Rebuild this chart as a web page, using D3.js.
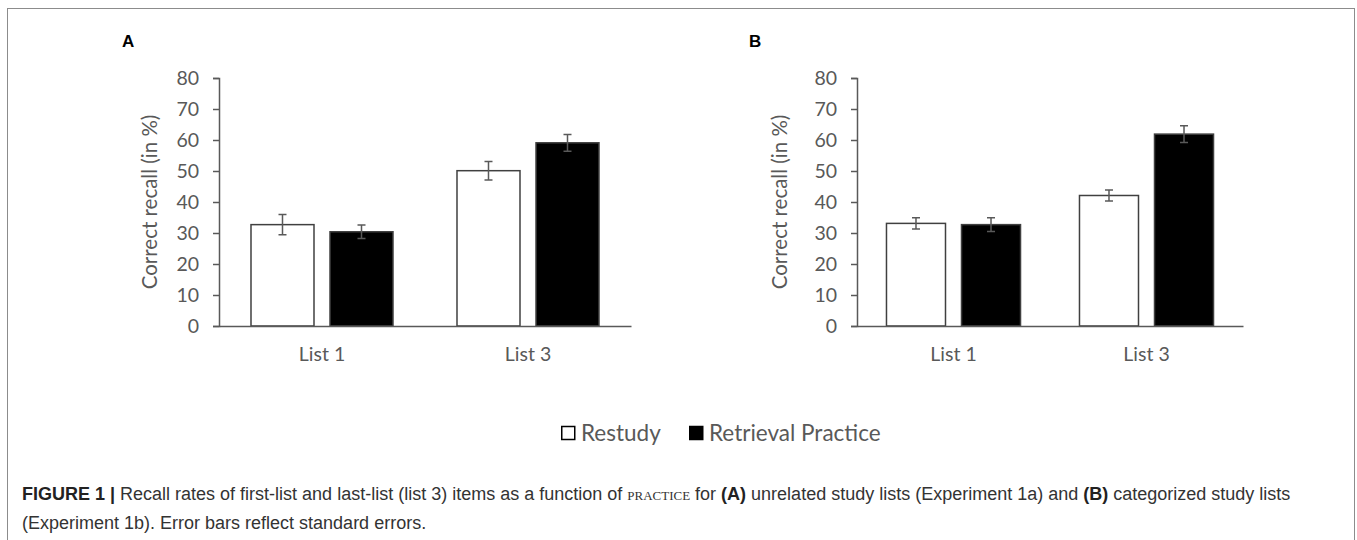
<!DOCTYPE html>
<html>
<head>
<meta charset="utf-8">
<script src="https://cdn.jsdelivr.net/npm/d3@7"></script>
<style>
  body { margin: 0; background: #fff; }
  svg { display: block; }
</style>
</head>
<body>
<svg id="graph"></svg>
<script>
var width = 1357, height = 540;

// data
var categories = ["List 1", "List 3"];
var series = ["Restudy", "Retrieval Practice"];
var yTicks = [0, 10, 20, 30, 40, 50, 60, 70, 80];

// panel A (Experiment 1a)
var meansA = [[32.7, 30.4], [50.1, 59.1]];
var errA   = [[3.3, 2.2], [3.0, 2.7]];
// panel B (Experiment 1b)
var meansB = [[33.1, 32.7], [42.1, 61.9]];
var errB   = [[1.8, 2.2], [1.8, 2.7]];

var gray = "#595959";
var chartFont = "Lato, 'Open Sans', sans-serif";

var svg = d3.select("#graph")
	.attr("width", width)
	.attr("height", height);

// frame
svg.append("rect")
	.attr("x", 7.5)
	.attr("y", 8.5)
	.attr("width", 1347)
	.attr("height", 560)
	.attr("fill", "none")
	.attr("stroke", "#8c8c8c")
	.attr("stroke-width", 1);

var y = d3.scaleLinear().domain([0, 80]).range([326, 78]);

function drawPanel(letter, x0left, x0right, barPadIn, barPadOut, labelX, letterX, means, errs) {

	var g = svg.append("g");

	var x0 = d3.scaleBand().domain(categories).range([x0left, x0right]).padding(0);
	var x1 = d3.scaleBand().domain(series).range([0, x0.bandwidth()])
		.paddingInner(barPadIn).paddingOuter(barPadOut);

	// y axis
	var yAxis = g.append("g")
		.attr("transform", "translate(" + x0left + ",0)")
		.call(d3.axisLeft(y).tickValues(yTicks).tickSize(6).tickPadding(14));
	yAxis.select(".domain").attr("stroke", gray).attr("stroke-width", 1.5);
	yAxis.selectAll(".tick line").attr("stroke", gray).attr("stroke-width", 1.5);
	yAxis.selectAll(".tick text")
		.attr("fill", gray)
		.attr("font-family", chartFont)
		.attr("font-size", "19.5px");

	// bars
	var groups = g.selectAll(".grp")
		.data(categories)
		.enter()
		.append("g")
		.attr("transform", d => "translate(" + x0(d) + ",0)");

	groups.selectAll("rect")
		.data((d, i) => series.map((s, j) => ({s: s, v: means[i][j], e: errs[i][j]})))
		.enter()
		.append("rect")
		.attr("x", d => x1(d.s))
		.attr("y", d => y(d.v))
		.attr("width", x1.bandwidth())
		.attr("height", d => y(0) - y(d.v))
		.attr("fill", (d, j) => j == 0 ? "#fff" : "#000")
		.attr("stroke", "#404040")
		.attr("stroke-width", 1.5);

	// error bars
	groups.selectAll(".err")
		.data((d, i) => series.map((s, j) => ({s: s, v: means[i][j], e: errs[i][j]})))
		.enter()
		.append("path")
		.attr("class", "err")
		.attr("d", function(d) {
			var cx = x1(d.s) + x1.bandwidth() / 2;
			var t = y(d.v + d.e), b = y(d.v - d.e);
			return "M" + (cx - 4) + "," + t + "H" + (cx + 4) +
				"M" + cx + "," + t + "V" + b +
				"M" + (cx - 4) + "," + b + "H" + (cx + 4);
		})
		.attr("fill", "none")
		.attr("stroke", gray)
		.attr("stroke-width", 1.5);

	// x axis
	var xAxis = g.append("g")
		.attr("transform", "translate(0," + y(0) + ")")
		.call(d3.axisBottom(x0).tickSize(0).tickPadding(21));
	xAxis.select(".domain").attr("stroke", gray).attr("stroke-width", 1.5);
	xAxis.selectAll(".tick text")
		.attr("fill", gray)
		.attr("font-family", chartFont)
		.attr("font-size", "19.5px");

	// y label
	g.append("text")
		.attr("transform", "translate(" + labelX + "," + ((y(0) + y(80)) / 2) + ") rotate(-90)")
		.attr("text-anchor", "middle")
		.attr("dy", "0.35em")
		.attr("fill", gray)
		.attr("font-family", chartFont)
		.attr("font-size", "20.5px")
		.text("Correct recall (in %)");

	// panel letter
	svg.append("text")
		.attr("x", letterX)
		.attr("y", 47)
		.attr("font-family", "'Liberation Sans', Arial, sans-serif")
		.attr("font-weight", "bold")
		.attr("font-size", "17px")
		.attr("fill", "#000")
		.text(letter);
}

drawPanel("A", 219, 631, 16 / 79, 0.405, 150, 122, meansA, errA);
drawPanel("B", 857, 1243, 16 / 75, 0.393, 780, 749, meansB, errB);

// legend
var legend = svg.append("g").attr("transform", "translate(0,433)");
var legendX = [561, 689];
var lg = legend.selectAll("g")
	.data(series)
	.enter()
	.append("g")
	.attr("transform", (d, i) => "translate(" + legendX[i] + ",0)");
lg.append("rect")
	.attr("x", 0.75)
	.attr("y", -6.5)
	.attr("width", 13)
	.attr("height", 13)
	.attr("fill", (d, i) => i == 0 ? "#fff" : "#000")
	.attr("stroke", "#000")
	.attr("stroke-width", 1.5);
lg.append("text")
	.attr("x", 20)
	.attr("dy", "0.35em")
	.attr("fill", gray)
	.attr("font-family", chartFont)
	.attr("font-size", "22.5px")
	.text(d => d);

// caption
var capFont = "'Liberation Sans', Arial, Helvetica, sans-serif";
var cap1 = svg.append("text")
	.attr("x", 22)
	.attr("y", 500)
	.attr("font-family", capFont)
	.attr("font-size", "18px")
	.attr("fill", "#333");
cap1.append("tspan").attr("font-weight", "bold").attr("fill", "#222").text("FIGURE 1 | ");
cap1.append("tspan").text("Recall rates of first-list and last-list (list 3) items as a function of ");
cap1.append("tspan")
	.attr("font-family", "'Liberation Serif', 'DejaVu Serif', serif")
	.attr("font-variant", "small-caps")
	.attr("font-size", "19px")
	.text("practice");
cap1.append("tspan").text(" for ");
cap1.append("tspan").attr("font-weight", "bold").attr("fill", "#222").text("(A)");
cap1.append("tspan").text(" unrelated study lists (Experiment 1a) and ");
cap1.append("tspan").attr("font-weight", "bold").attr("fill", "#222").text("(B)");
cap1.append("tspan").text(" categorized study lists");

svg.append("text")
	.attr("x", 22)
	.attr("y", 529)
	.attr("font-family", capFont)
	.attr("font-size", "18px")
	.attr("fill", "#333")
	.text("(Experiment 1b). Error bars reflect standard errors.");
</script>
</body>
</html>
